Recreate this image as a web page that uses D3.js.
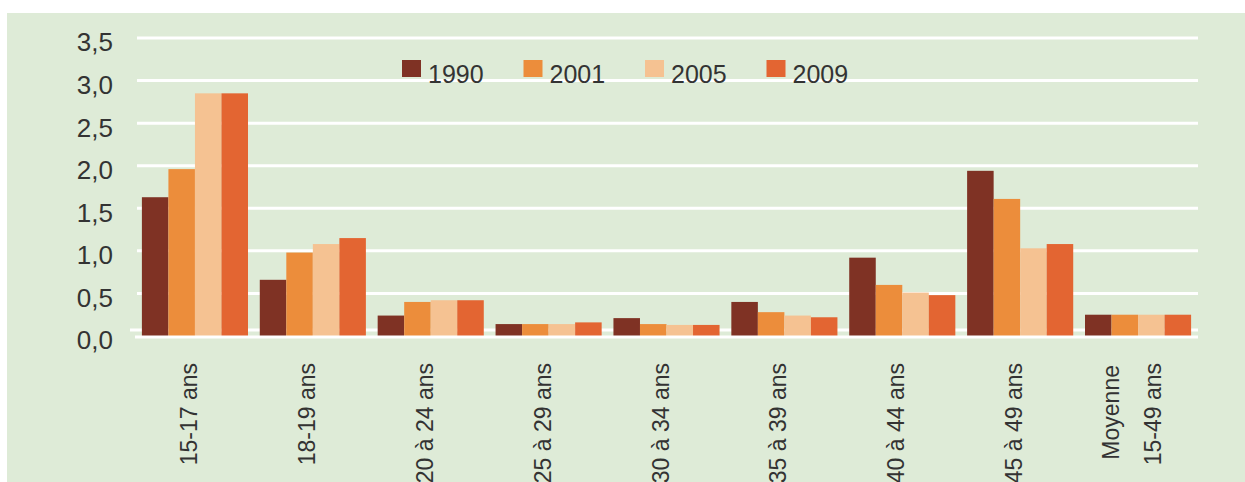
<!DOCTYPE html>
<html>
<head>
<meta charset="utf-8">
<script src="https://cdn.jsdelivr.net/npm/d3@7"></script>
<style>
  body { margin: 0; background: #fff; }
  svg { display: block; }
  text { font-family: "Liberation Sans", Arial, sans-serif; fill: #333; }
</style>
</head>
<body>
<svg id="chart" width="1245" height="482"></svg>
<script>
// age groups and yearly series
var categories = ["15-17 ans", "18-19 ans", "20 à 24 ans", "25 à 29 ans", "30 à 34 ans",
                  "35 à 39 ans", "40 à 44 ans", "45 à 49 ans", "Moyenne|15-49 ans"];
var years = ["1990", "2001", "2005", "2009"];
var v1990 = [1.63, 0.66, 0.24, 0.14, 0.21, 0.40, 0.92, 1.94, 0.25];
var v2001 = [1.96, 0.98, 0.40, 0.14, 0.14, 0.28, 0.60, 1.61, 0.25];
var v2005 = [2.85, 1.08, 0.42, 0.14, 0.13, 0.24, 0.51, 1.03, 0.25];
var v2009 = [2.85, 1.15, 0.42, 0.16, 0.13, 0.22, 0.48, 1.08, 0.25];
var yTicks = [0, 0.5, 1, 1.5, 2, 2.5, 3, 3.5];

var series = [v1990, v2001, v2005, v2009];
var colors = ["#7f3224", "#ec8d3b", "#f5c292", "#e36532"];

var svg = d3.select("#chart");

// green panel
svg.append("rect")
    .attr("x", 7).attr("y", 13)
    .attr("width", 1245 - 7).attr("height", 482 - 13)
    .attr("fill", "#deebd7");

var x = d3.scaleBand()
    .domain(categories)
    .range([136, 1197])
    .paddingInner(0.1)
    .paddingOuter(0.05);

var xInner = d3.scaleBand()
    .domain(years)
    .range([0, x.bandwidth()]);

var y = d3.scaleLinear()
    .domain([0, 3.5])
    .range([336, 38]);

var fmt = function(d) { return d3.format(".1f")(d).replace(".", ","); };

// gridlines
var grid = svg.append("g").attr("class", "grid");
grid.selectAll("line")
    .data(yTicks)
    .enter()
    .append("line")
    .attr("x1", function(d) { return d === 0 ? 130 : 137; })
    .attr("x2", 1198)
    .attr("y1", function(d) { return d === 0 ? y(d) - 6 : y(d); })
    .attr("y2", function(d) { return d === 0 ? y(d) - 6 : y(d); })
    .attr("stroke", "#fff")
    .attr("stroke-width", 3);

// y tick labels
svg.append("g")
    .selectAll("text")
    .data(yTicks)
    .enter()
    .append("text")
    .attr("x", 113)
    .attr("y", function(d) { return y(d) + 4; })
    .attr("dy", "0.36em")
    .attr("text-anchor", "end")
    .attr("font-size", 26)
    .text(fmt);

// bars
var groups = svg.append("g").attr("class", "bars")
    .selectAll("g")
    .data(categories)
    .enter()
    .append("g")
    .attr("transform", function(d) { return "translate(" + x(d) + ",0)"; });

groups.selectAll("rect")
    .data(function(d, i) {
        return years.map(function(yr, j) { return {year: yr, value: series[j][i], idx: j}; });
    })
    .enter()
    .append("rect")
    .attr("x", function(d) { return xInner(d.year); })
    .attr("width", xInner.bandwidth())
    .attr("y", function(d) { return y(d.value); })
    .attr("height", function(d) { return y(0) - y(d.value); })
    .attr("fill", function(d) { return colors[d.idx]; });

// axis line
svg.append("line")
    .attr("x1", 135).attr("x2", 1198)
    .attr("y1", y(0) + 1).attr("y2", y(0) + 1)
    .attr("stroke", "#fff")
    .attr("stroke-width", 3);

// x labels, rotated
var labels = svg.append("g").attr("class", "xlabels")
    .selectAll("text")
    .data(categories)
    .enter()
    .append("text")
    .attr("font-size", 23)
    .attr("text-anchor", "end")
    .attr("transform", function(d) {
        var cx = x(d) + x.bandwidth() / 2;
        return "translate(" + cx + ",363) rotate(-90)";
    });

labels.each(function(d) {
    var parts = d.split("|");
    var t = d3.select(this);
    if (parts.length === 1) {
        t.append("tspan").attr("x", 0).attr("y", 2).text(parts[0]);
    } else {
        t.append("tspan").attr("x", -2).attr("y", -19).text(parts[0]);
        t.append("tspan").attr("x", 0).attr("y", 23).text(parts[1]);
    }
});

// legend
var legend = svg.append("g").attr("class", "legend")
    .selectAll("g")
    .data(years)
    .enter()
    .append("g")
    .attr("transform", function(d, i) { return "translate(" + (402 + i * 121.5) + ",60)"; });

legend.append("rect")
    .attr("width", 19)
    .attr("height", 17)
    .attr("fill", function(d, i) { return colors[i]; });

legend.append("text")
    .attr("x", 26)
    .attr("y", 23)
    .attr("font-size", 25)
    .text(function(d) { return d; });
</script>
</body>
</html>
